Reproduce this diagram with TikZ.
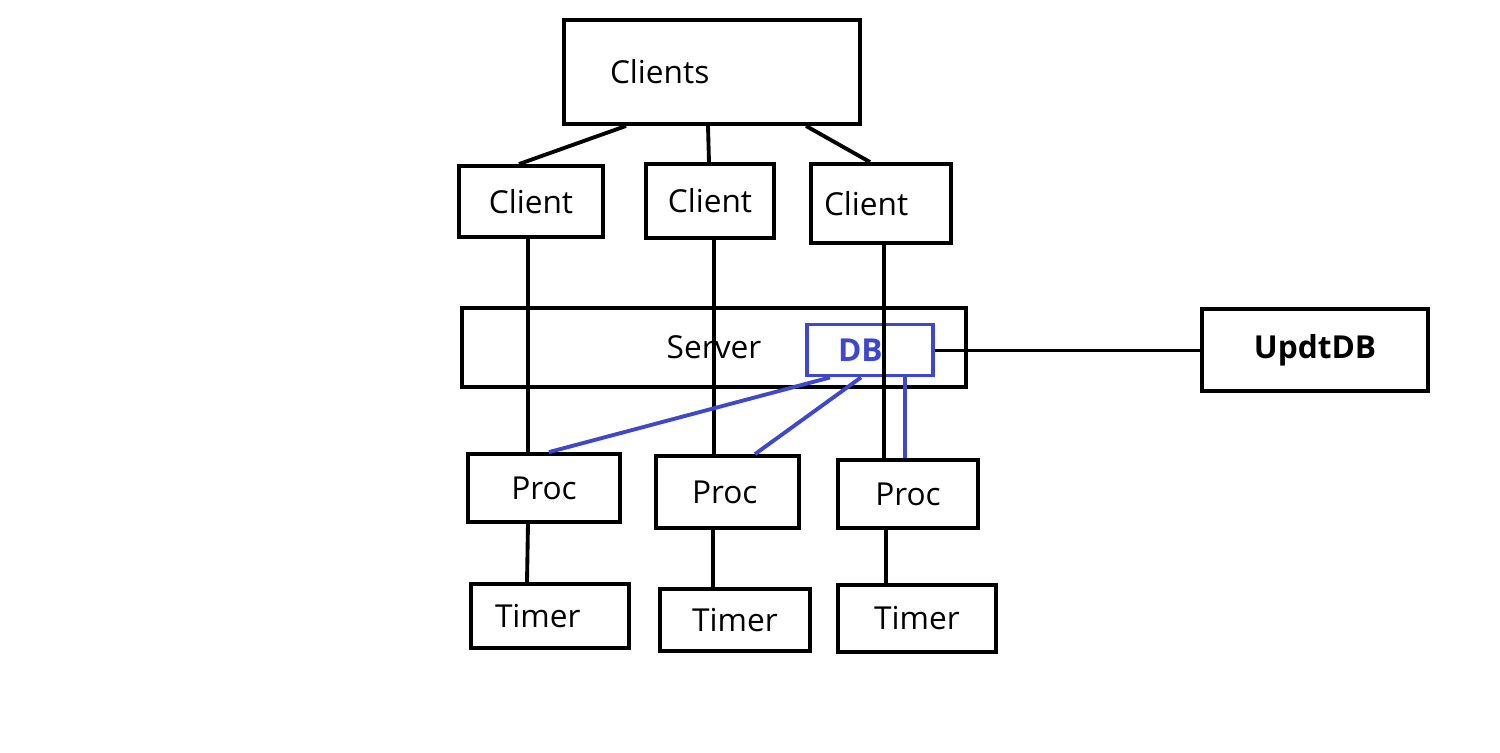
\documentclass[tikz,border=0pt]{standalone}
\usepackage{fontspec}
\setmainfont{Open Sans}
\definecolor{dbblue}{RGB}{63,72,204}

\tikzset{
    box/.style={draw, line width=1.1pt, inner sep=0pt, font=\fontsize{9}{11}\selectfont},
    leftbox/.style 2 args={align=left, inner xsep=#1, text width=#2},
    link/.style={line width=1.1pt},
    dblink/.style={line width=1.1pt, dbblue},
}

\begin{document}
\begin{tikzpicture}

    \useasboundingbox (0,0) rectangle (15,-7.52);

    % Clients on top
    \node[box, leftbox={0.46cm}{2.04cm}, minimum width=2.96cm, minimum height=1.04cm] (clients) at (7.12,-0.72) {Clients};

    % Single clients
    \node[box, minimum width=1.44cm, minimum height=0.71cm] (client1) at (5.31,-2.015) {Client};
    \node[box, minimum width=1.28cm, minimum height=0.74cm] (client2) at (7.10,-2.01) {Client};
    \node[box, leftbox={0.13cm}{1.14cm}, minimum width=1.40cm, minimum height=0.79cm] (client3) at (8.81,-2.035) {Client};

    % Server with DB inside
    \node[box, minimum width=5.04cm, minimum height=0.79cm] (server) at (7.14,-3.475) {Server};
    \node[box, leftbox={0.31cm}{0.64cm}, draw=dbblue, text=dbblue, font=\fontsize{9}{11}\selectfont\bfseries, minimum width=1.26cm, minimum height=0.51cm] (db) at (8.70,-3.50) {DB};
    \node[box, font=\fontsize{9}{11}\selectfont\bfseries, minimum width=2.26cm, minimum height=0.82cm] (updtdb) at (13.15,-3.50) {UpdtDB};

    % Procs
    \node[box, minimum width=1.52cm, minimum height=0.68cm] (proc1) at (5.44,-4.88) {Proc};
    \node[box, leftbox={0.36cm}{0.71cm}, minimum width=1.43cm, minimum height=0.72cm] (proc2) at (7.275,-4.92) {Proc};
    \node[box, minimum width=1.40cm, minimum height=0.68cm] (proc3) at (9.08,-4.94) {Proc};

    % Timers
    \node[box, leftbox={0.24cm}{1.10cm}, minimum width=1.58cm, minimum height=0.64cm] (timer1) at (5.50,-6.16) {Timer};
    \node[box, minimum width=1.50cm, minimum height=0.62cm] (timer2) at (7.35,-6.20) {Timer};
    \node[box, minimum width=1.58cm, minimum height=0.67cm] (timer3) at (9.17,-6.185) {Timer};

    % Clients -> client
    \draw[link] ([xshift=-0.86cm]clients.south) -- ([xshift=-0.12cm]client1.north);
    \draw[link] ([xshift=-0.04cm]clients.south) -- ([xshift=-0.01cm]client2.north);
    \draw[link] ([xshift=0.94cm]clients.south) -- ([xshift=-0.11cm]client3.north);

    % client -> proc, through the server
    \draw[link] ([xshift=-0.03cm]client1.south) -- ([xshift=-0.16cm]proc1.north);
    \draw[link] ([xshift=0.04cm]client2.south) -- ([xshift=-0.135cm]proc2.north);
    \draw[link] ([xshift=0.03cm]client3.south) -- ([xshift=-0.24cm]proc3.north);

    % proc -> timer
    \draw[link] ([xshift=-0.16cm]proc1.south) -- ([xshift=-0.23cm]timer1.north);
    \draw[link] ([xshift=-0.145cm]proc2.south) -- ([xshift=-0.22cm]timer2.north);
    \draw[link] ([xshift=-0.22cm]proc3.south) -- ([xshift=-0.31cm]timer3.north);

    % DB -> UpdtDB
    \draw[line width=0.85pt] (db.east) -- (updtdb.west);

    % DB -> proc
    \draw[dblink] ([xshift=-0.40cm]db.south) -- ([xshift=0.05cm]proc1.north);
    \draw[dblink] ([xshift=-0.09cm]db.south) -- ([xshift=0.275cm]proc2.north);
    \draw[dblink] ([xshift=0.35cm]db.south) -- ([xshift=-0.03cm]proc3.north);

\end{tikzpicture}
\end{document}
